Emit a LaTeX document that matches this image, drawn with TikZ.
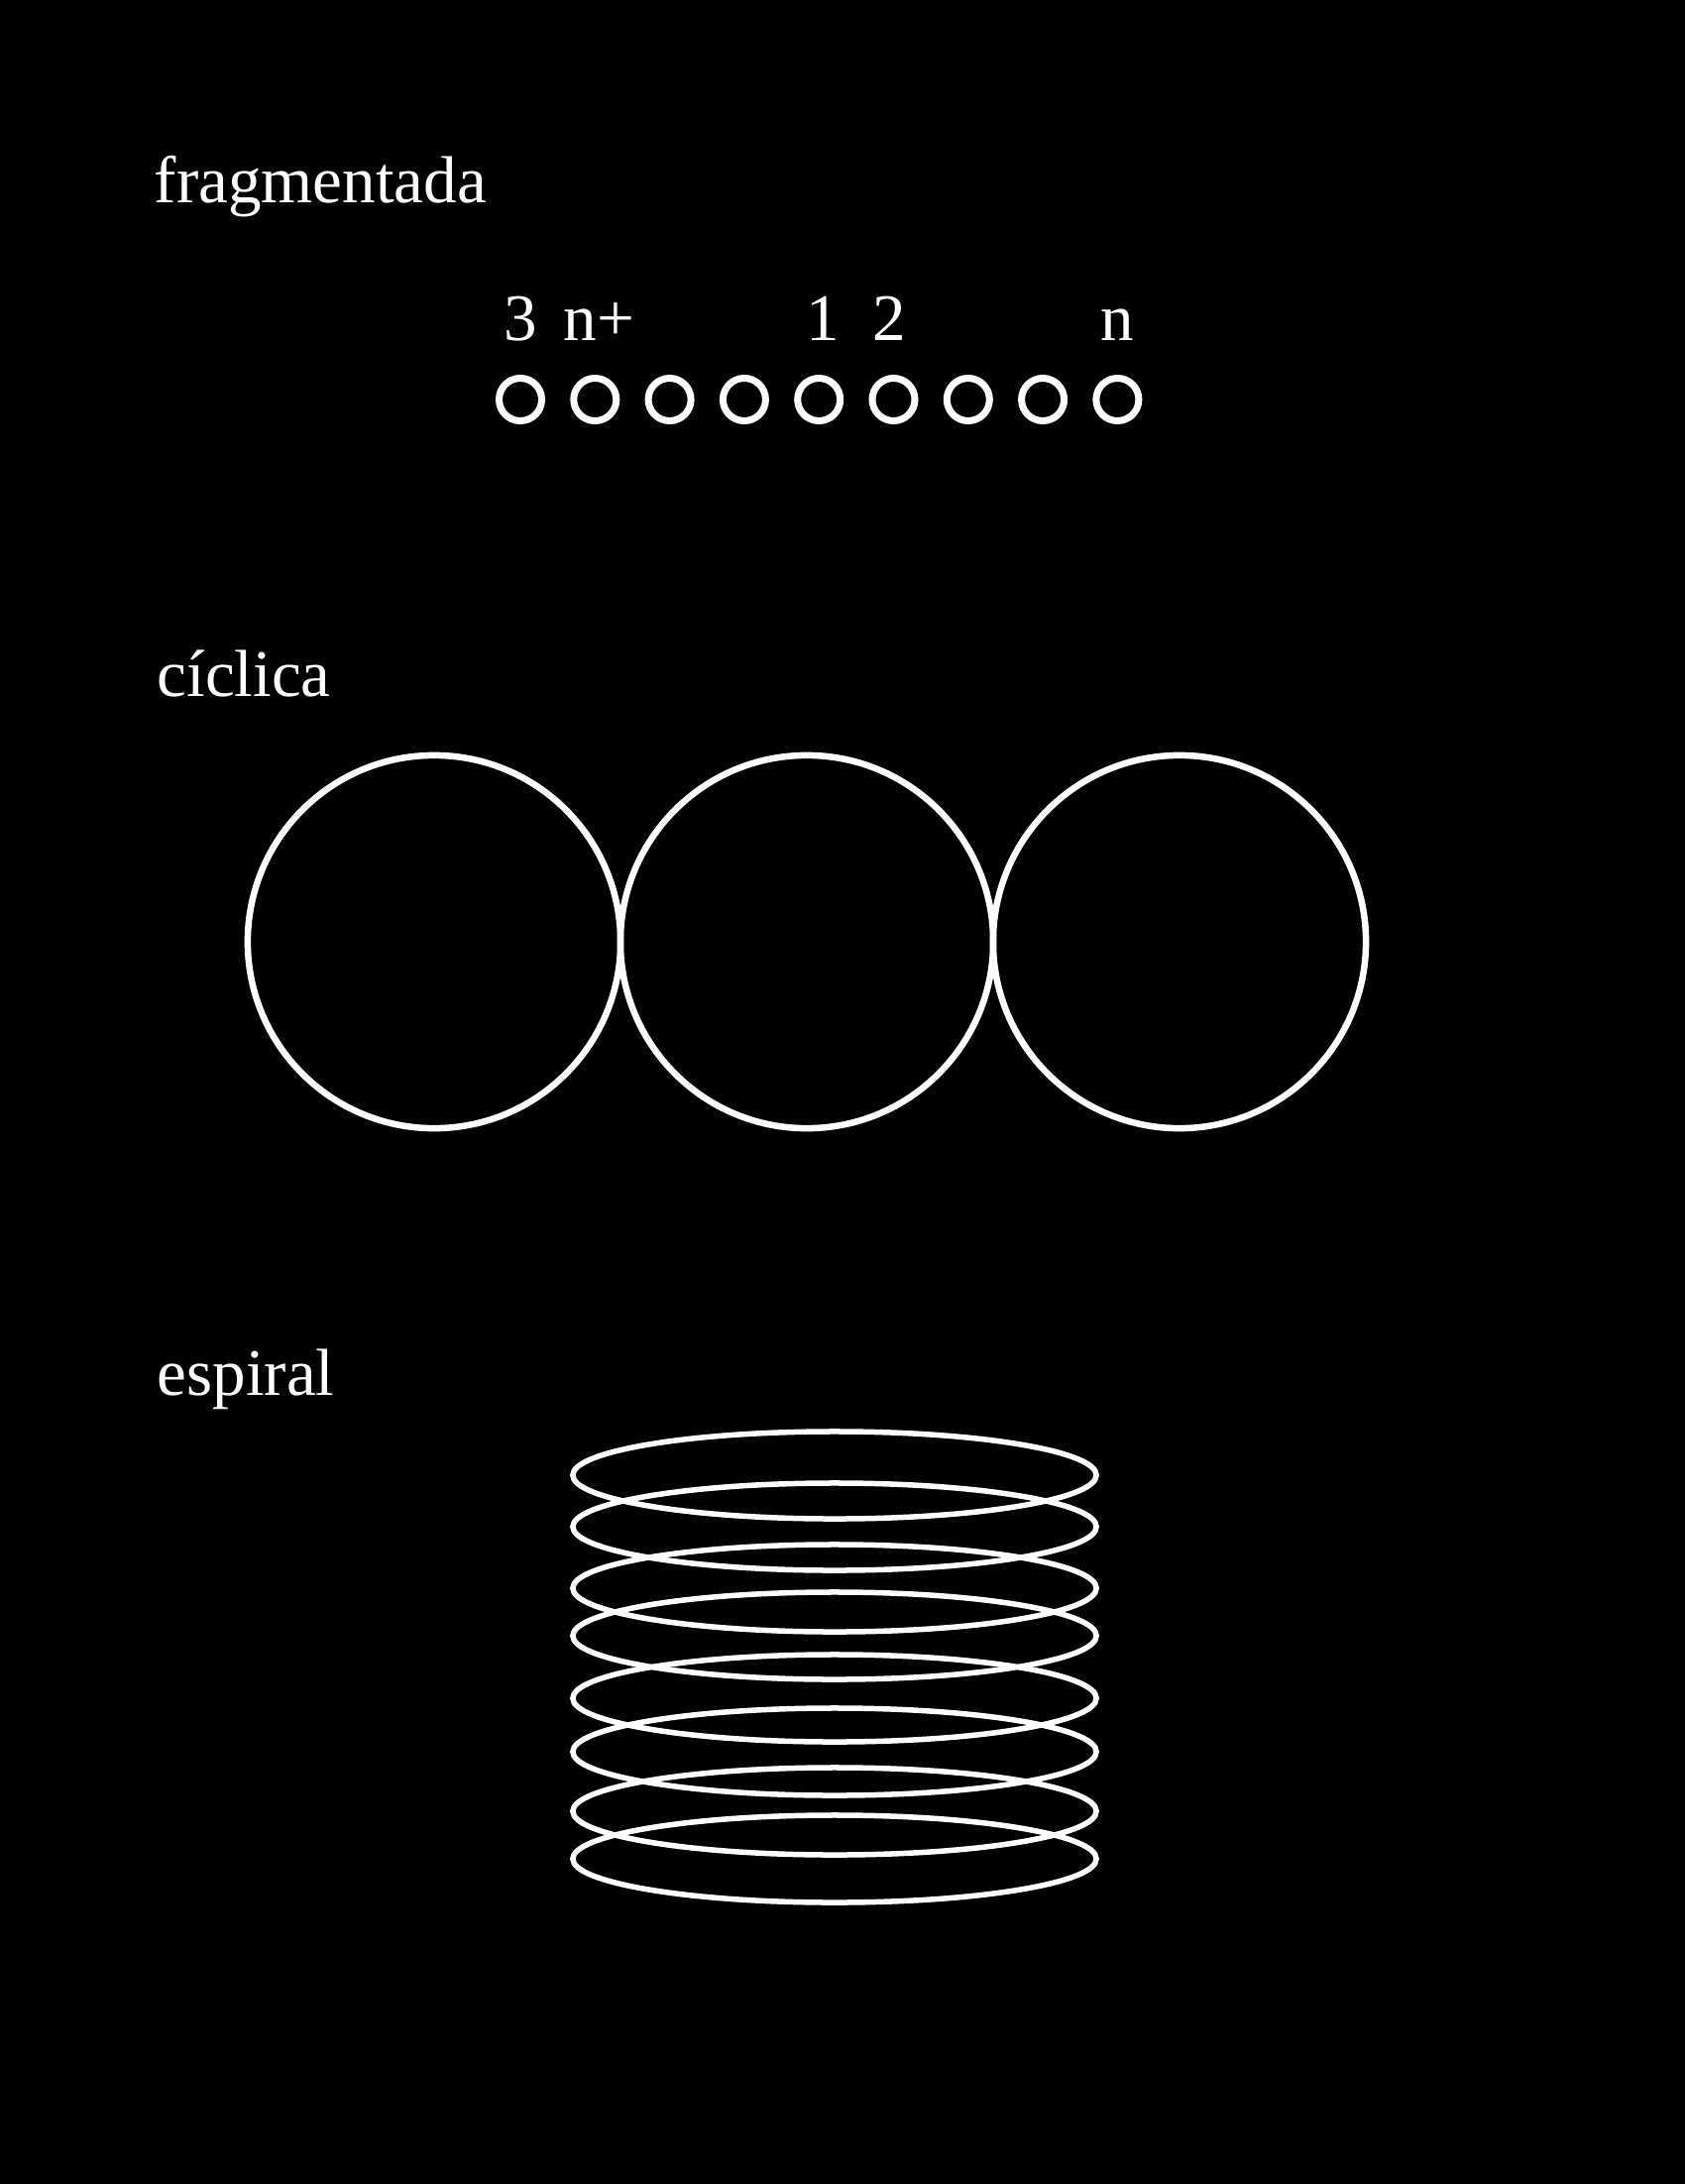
\documentclass[tikz,border=0pt]{standalone}
\usepackage{fontspec}
\setmainfont{Liberation Serif}
\usetikzlibrary{shapes.geometric,calc}

\begin{document}
\begin{tikzpicture}[x=0.01cm, y=-0.01cm,
    every node/.style={text=white, font=\fontsize{19.07}{23}\selectfont},
    title/.style={anchor=base west, inner sep=0pt},
    num/.style={anchor=base, inner sep=0pt},
    bead/.style={draw=white, circle, line width=0.07cm, minimum size=0.43cm, inner sep=0pt},
    ring/.style={draw=white, circle, line width=0.065cm, minimum size=3.76cm, inner sep=0pt},
    turn/.style={draw=white, ellipse, line width=0.055cm, minimum width=5.28cm, minimum height=0.88cm, inner sep=0pt}]

  % background
  \fill[black] (0,0) rectangle (1700,2203);

  % fragmentada
  \node[title] (t1) at (155,205) {fragmentada};
  \foreach \i in {1,...,9}
    \node[bead] (b\i) at ({525+75.3*(\i-1)},403) {};
  \node[num] (n3) at ($(b1)+(0,-60)$) {3};
  \node[num] (nplus) at ($(b2)+(4,-60)$) {n+};
  \node[num] (n1) at ($(b5)+(4,-60)$) {1};
  \node[num] (n2) at ($(b6)+(-4,-60)$) {2};
  \node[num] (nn) at ($(b9)+(0,-60)$) {n};

  % ciclica
  \node[title] (t2) at (158,702) {cíclica};
  \node[ring] (r1) at (438,950) {};
  \node[ring] (r2) at (814,950) {};
  \node[ring] (r3) at (1190,950) {};

  % espiral
  \node[title] (t3) at (158,1407) {espiral};
  \foreach \i/\y in {1/1488,2/1540,3/1602,4/1650,5/1713,6/1767,7/1827,8/1875}
    \node[turn] (e\i) at (842,\y) {};
\end{tikzpicture}
\end{document}
